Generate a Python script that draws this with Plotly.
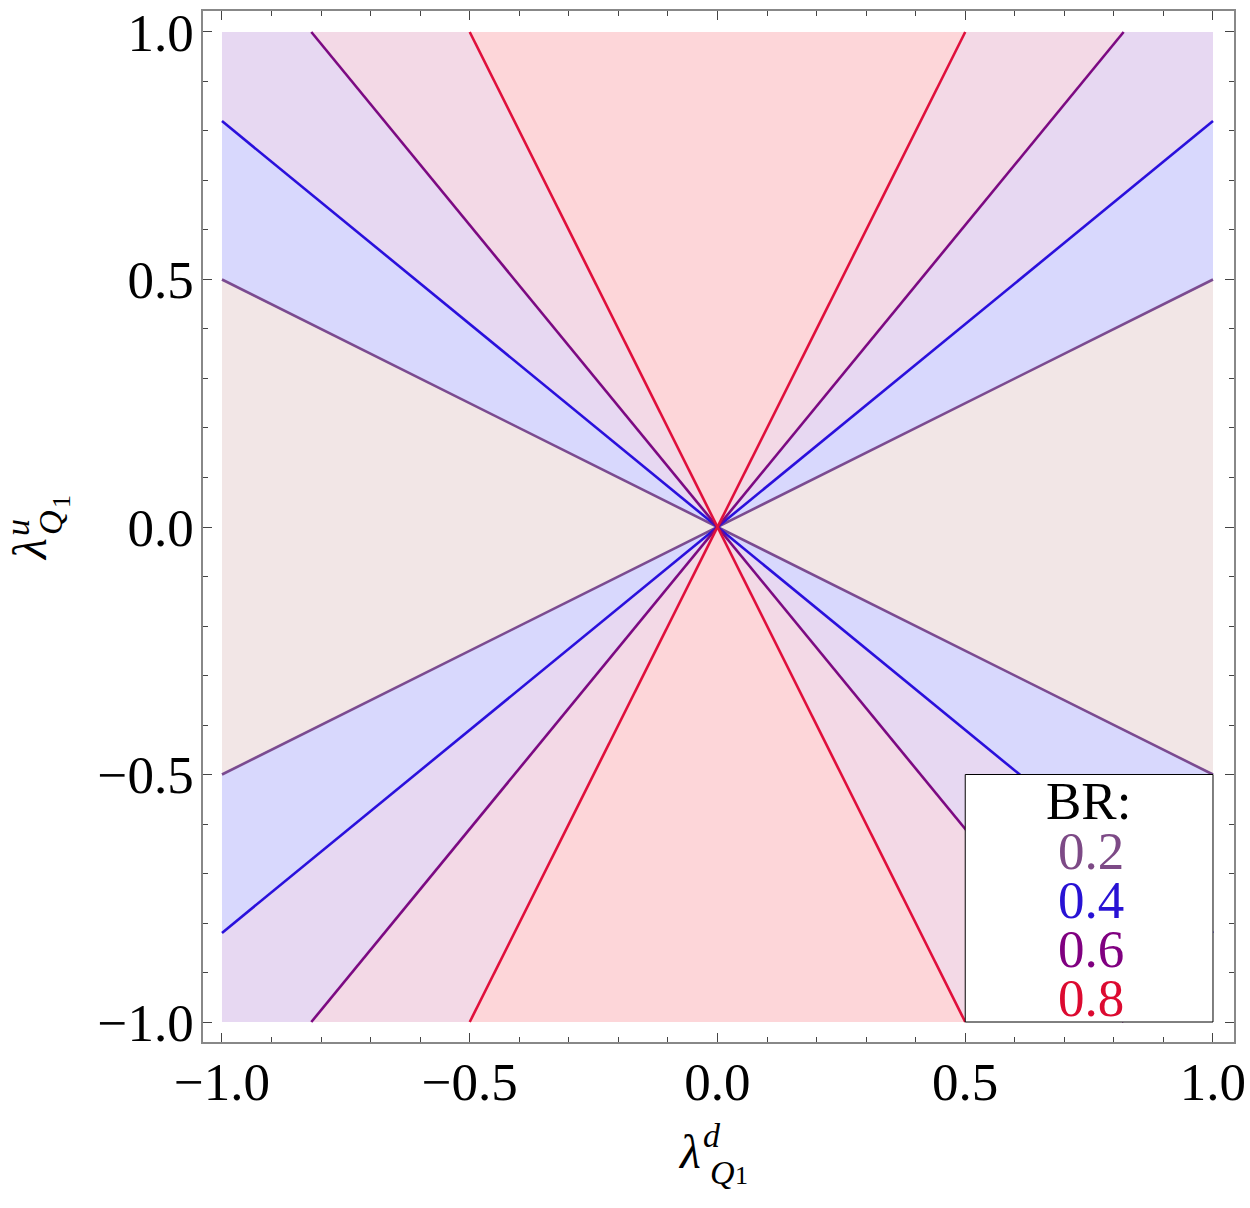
import math

import plotly.graph_objects as go

# contour levels of the branching ratio and the |slope| of each contour line,
# read off where the lines leave the square
levels = [0.2, 0.4, 0.6, 0.8]
slopes = [0.5, 0.82, 1.22, 2.0]
line_colors = ["#7b4b90", "#2a10dc", "#7c0a82", "#e0103c"]
text_colors = ["#7d4a86", "#2812d4", "#800080", "#dc0a30"]
# fill of each band, from the one around the x axis outwards
band_colors = ["#f2e6e6", "#d8d8fd", "#e7d8f2", "#f3d9e6", "#fdd6d9"]
tick_vals = [-1.0, -0.5, 0.0, 0.5, 1.0]
tick_text = ["\u22121.0", "\u22120.5", "0.0", "0.5", "1.0"]

FONT = "Liberation Serif"
W, H = 1250, 1208
L, R, T, B = 203, 16, 11, 166


def edge(theta):
    c, s = math.cos(theta), math.sin(theta)
    t = 1.0 / max(abs(c), abs(s))
    return t * c, t * s


def paper(x, y):
    # page pixels -> paper coordinates
    return (x - L) / (W - L - R), (H - B - y) / (H - T - B)


ang = [math.atan(s) for s in slopes]
edges = ([-ang[0]] + ang + [math.pi - a for a in reversed(ang)]
         + [math.pi + a for a in ang] + [2 * math.pi - a for a in reversed(ang)])
n = len(slopes)
band_idx = list(range(n + 1)) + list(range(n - 1, 0, -1))
band_idx = band_idx + band_idx
corners = [math.pi / 4 + k * math.pi / 2 for k in range(-1, 8)]

fig = go.Figure()
for i in range(len(edges) - 1):
    a0, a1 = edges[i], edges[i + 1]
    pts = [(0.0, 0.0), edge(a0)]
    pts += [edge(c) for c in corners if a0 < c < a1]
    pts += [edge(a1), (0.0, 0.0)]
    fig.add_trace(go.Scatter(
        x=[p[0] for p in pts], y=[p[1] for p in pts],
        mode="lines", fill="toself", fillcolor=band_colors[band_idx[i]],
        line={"width": 0}, hoverinfo="skip", showlegend=False))

for lev, a, col in zip(levels, ang, line_colors):
    xs, ys = [], []
    for th in (a, -a):
        p, q = edge(th + math.pi), edge(th)
        xs += [p[0], q[0], None]
        ys += [p[1], q[1], None]
    fig.add_trace(go.Scatter(x=xs, y=ys, mode="lines", line={"color": col, "width": 2.6},
                             name=f"BR = {lev}", showlegend=False))

axis = dict(
    showgrid=False, zeroline=False, showline=True, linecolor="#888888", linewidth=1.5,
    mirror="allticks", ticks="inside", ticklen=9, tickwidth=1.2, tickcolor="#444444",
    tickvals=tick_vals, ticktext=tick_text, ticklabeloverflow="allow", automargin=False,
    tickfont={"family": FONT, "size": 53, "color": "black"},
    minor={"dtick": 0.1, "ticks": "inside", "ticklen": 5, "tickcolor": "#444444",
           "tickwidth": 1, "showgrid": False},
)

annotations = []


def note(text, x, y, size, color="black", angle=0, height=None):
    px, py = paper(x, y)
    ann = dict(text=text, x=px, y=py, xref="paper", yref="paper",
               xanchor="center", yanchor="middle", showarrow=False,
               textangle=angle, font={"family": FONT, "size": size, "color": color})
    if height:
        ann["height"] = height
    annotations.append(ann)


# axis titles, pieced together so the super- and subscripts stack
note("<i>λ</i>", 689, 1151, 48)
note("<i>d</i>", 712, 1135, 34)
note("<i>Q</i>", 722, 1172, 34)
note("1", 741, 1175, 26)
note("<i>λ</i>", 29, 550, 48, angle=-90, height=44)
note("<i>u</i>", 17, 528, 34, angle=-90, height=28)
note("<i>Q</i>", 50, 523, 34, angle=-90)
note("1", 61, 502, 26, angle=-90)

# legend box
note("BR:", 1088, 801, 53, height=46)
for k, (lev, col) in enumerate(zip(levels, text_colors)):
    note(f"{lev}", 1091, 851 + 49 * k, 53, color=col, height=46)

fig.update_layout(
    width=W, height=H,
    margin={"l": L, "r": R, "t": T, "b": B, "autoexpand": False},
    plot_bgcolor="white", paper_bgcolor="white",
    xaxis={**axis, "range": [-1.0383, 1.0424], "ticklabelstandoff": -7},
    yaxis={**axis, "range": [-1.0404, 1.0424], "ticklabelstandoff": -3},
    shapes=[dict(type="rect", xref="x", yref="y", x0=0.5, x1=1.0, y0=-1.0, y1=-0.5,
                 fillcolor="white", line={"color": "black", "width": 1}, layer="above")],
    annotations=annotations,
)

# drop the default page margin so the figure fills the window exactly
fig.write_html("out.html", config={"displayModeBar": False},
               post_script="document.body.style.margin='0';document.body.style.overflow='hidden';")
